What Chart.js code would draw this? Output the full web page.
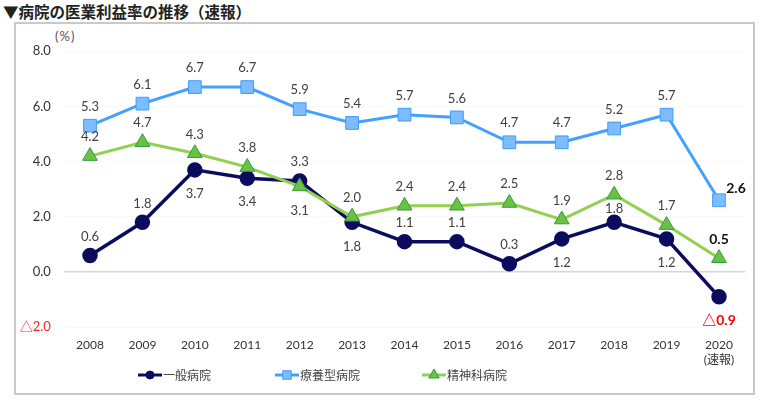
<!DOCTYPE html>
<html>
<head>
<meta charset="utf-8">
<script src="https://cdn.jsdelivr.net/npm/chart.js@4.4.1/dist/chart.umd.min.js"></script>
<style>
  body { margin: 0; background: #fff; font-family: Lato, "Noto Sans CJK JP", sans-serif; }
  #wrap { position: relative; width: 768px; height: 401px; }
  #title { position: absolute; left: 3px; top: 0px; font-size: 15.5px; font-weight: bold; color: #222;
           font-family: "Noto Sans CJK JP", sans-serif; }
  #frame { position: absolute; left: 14px; top: 22px; width: 737px; height: 369px; border: 2px solid #c9c9c9; }
  #unit { position: absolute; left: 55px; top: 28px; font-size: 13px; color: #555; letter-spacing: 1px; }
  canvas { position: absolute; left: 0; top: 0; }
</style>
</head>
<body>
<div id="wrap">
  <div id="title">▼病院の医業利益率の推移（速報）</div>
  <div id="frame"></div>
  <div id="unit">(%)</div>
  <canvas id="chart" width="768" height="401"></canvas>
</div>
<script>
// Years along the x axis (last one is the preliminary figure)
const years = ['2008', '2009', '2010', '2011', '2012', '2013', '2014', '2015', '2016', '2017', '2018', '2019', ['2020', '(速報)']];

// Operating profit ratio (%) for each hospital type
const general = [0.6, 1.8, 3.7, 3.4, 3.3, 1.8, 1.1, 1.1, 0.3, 1.2, 1.8, 1.2, -0.9];
const longTerm = [5.3, 6.1, 6.7, 6.7, 5.9, 5.4, 5.7, 5.6, 4.7, 4.7, 5.2, 5.7, 2.6];
const psychiatric = [4.2, 4.7, 4.3, 3.8, 3.1, 2.0, 2.4, 2.4, 2.5, 1.9, 2.8, 1.7, 0.5];

const seriesNames = ['一般病院', '療養型病院', '精神科病院'];

// where each value label sits: a = above, b = below, r = right
const labelPos = [
    ['a', 'a', 'b', 'b', 'a', 'b', 'a', 'a', 'a', 'b', 'a', 'b', 'b'],
    ['a', 'a', 'a', 'a', 'a', 'a', 'a', 'a', 'a', 'a', 'a', 'a', 'r'],
    ['a', 'a', 'a', 'a', 'b', 'a', 'a', 'a', 'a', 'a', 'a', 'a', 'a']
];

const FONT = "Lato, 'Noto Sans CJK JP', sans-serif";
Chart.defaults.font.family = FONT;

function fmt(v) {
    return v < 0 ? '△' + Math.abs(v).toFixed(1) : v.toFixed(1);
}

// value labels drawn next to each point
const valueLabels = {
    id: 'valueLabels',
    afterDatasetsDraw(chart) {
        const ctx = chart.ctx;
        ctx.save();
        ctx.textAlign = 'center';
        ctx.textBaseline = 'middle';
        chart.data.datasets.forEach((ds, di) => {
            const meta = chart.getDatasetMeta(di);
            meta.data.forEach((pt, i) => {
                const v = ds.data[i];
                const last = i === ds.data.length - 1;
                let dx = 0, dy = -19;
                const pos = labelPos[di][i];
                if (pos === 'b') dy = 24;
                if (pos === 'r') { dx = 17; dy = -12; }
                if (di === 0 && i === 10) dy = -14;
                ctx.font = (last ? 'bold 14px ' : '13px ') + FONT;
                ctx.fillStyle = v < 0 ? '#ff0000' : (last ? '#111' : '#404040');
                ctx.fillText(fmt(v), pt.x + dx, pt.y + dy);
            });
        });
        ctx.restore();
    }
};

// legend row at the bottom: line + marker + name
const legendX = [138, 275, 422];
const lineLegend = {
    id: 'lineLegend',
    afterDraw(chart) {
        const ctx = chart.ctx;
        const y = 375;
        ctx.save();
        ctx.font = "12px 'Noto Sans CJK JP', sans-serif";
        ctx.textBaseline = 'middle';
        chart.data.datasets.forEach((ds, i) => {
            const x = legendX[i];
            ctx.strokeStyle = ds.borderColor;
            ctx.lineWidth = 3;
            ctx.beginPath();
            ctx.moveTo(x, y);
            ctx.lineTo(x + 24, y);
            ctx.stroke();
            ctx.fillStyle = ds.pointBackgroundColor;
            ctx.strokeStyle = ds.pointBorderColor;
            ctx.lineWidth = 1;
            Chart.helpers.drawPoint(ctx, {
                pointStyle: ds.pointStyle,
                radius: ds.pointStyle === 'circle' ? 4 : 6,
                borderWidth: 1
            }, x + 12, y);
            ctx.fillStyle = '#444';
            ctx.fillText(ds.label, x + 25, y);
        });
        ctx.restore();
    }
};

new Chart(document.getElementById('chart'), {
    type: 'line',
    data: {
        labels: years,
        datasets: [{
            label: seriesNames[0],
            data: general,
            borderColor: '#0c0c5e',
            borderWidth: 3.5,
            pointStyle: 'circle',
            pointRadius: 6,
            pointBackgroundColor: '#0c0c5e',
            pointBorderColor: '#0c0c5e',
            order: 2
        }, {
            label: seriesNames[1],
            data: longTerm,
            borderColor: '#44a0ff',
            borderWidth: 3,
            pointStyle: 'rect',
            pointRadius: 9,
            pointBackgroundColor: '#7cbcff',
            pointBorderColor: '#3f9bff',
            pointBorderWidth: 1,
            order: 1
        }, {
            label: seriesNames[2],
            data: psychiatric,
            borderColor: '#92d050',
            borderWidth: 3,
            pointStyle: 'triangle',
            pointRadius: 8.5,
            pointBackgroundColor: '#6cc043',
            pointBorderColor: '#2f9e3e',
            pointBorderWidth: 1,
            order: 0
        }]
    },
    options: {
        responsive: false,
        animation: false,
        layout: { padding: { left: 0, right: 22.8, top: 51.2, bottom: 0 } },
        scales: {
            x: {
                offset: true,
                afterFit: (scale) => { scale.height = 73.8; },
                grid: { display: false, drawTicks: false },
                border: { display: false },
                ticks: { color: '#333', font: { size: 12 }, padding: 11, maxRotation: 0, autoSkip: false }
            },
            y: {
                min: -2,
                max: 8,
                afterFit: (scale) => { scale.width = 63.8; },
                grid: {
                    drawTicks: false,
                    color: (c) => c.tick && c.tick.value === 0 ? '#d6d6d6' : 'rgba(0,0,0,0.025)',
                    lineWidth: (c) => c.tick && c.tick.value === 0 ? 1.5 : 1
                },
                border: { display: false },
                ticks: {
                    stepSize: 2,
                    padding: 13,
                    font: { size: 13 },
                    color: (c) => c.tick.value < 0 ? '#ff2020' : '#333',
                    callback: (v) => fmt(v)
                }
            }
        },
        plugins: {
            legend: { display: false },
            tooltip: { enabled: false }
        }
    },
    plugins: [valueLabels, lineLegend]
});
</script>
</body>
</html>
